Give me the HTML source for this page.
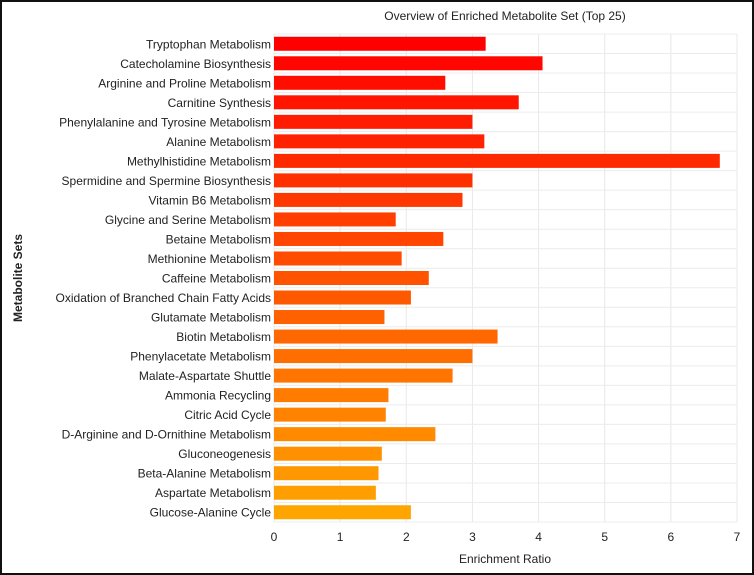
<!DOCTYPE html>
<html><head><meta charset="utf-8"><style>
html,body{margin:0;padding:0;background:#fff}
#wrap{position:relative;width:754px;height:575px;box-sizing:border-box;border:2px solid #111;overflow:hidden}
svg{position:absolute;left:-2px;top:-2px}
text{font-family:"Liberation Sans",Arial,sans-serif;fill:#222}
</style></head><body>
<div id="wrap">
<svg id="chart" width="754" height="575"></svg>
</div>
<script>
const categories=["Tryptophan Metabolism","Catecholamine Biosynthesis","Arginine and Proline Metabolism","Carnitine Synthesis","Phenylalanine and Tyrosine Metabolism","Alanine Metabolism","Methylhistidine Metabolism","Spermidine and Spermine Biosynthesis","Vitamin B6 Metabolism","Glycine and Serine Metabolism","Betaine Metabolism","Methionine Metabolism","Caffeine Metabolism","Oxidation of Branched Chain Fatty Acids","Glutamate Metabolism","Biotin Metabolism","Phenylacetate Metabolism","Malate-Aspartate Shuttle","Ammonia Recycling","Citric Acid Cycle","D-Arginine and D-Ornithine Metabolism","Gluconeogenesis","Beta-Alanine Metabolism","Aspartate Metabolism","Glucose-Alanine Cycle"];
const values=[3.2,4.06,2.59,3.7,3.0,3.18,6.74,3.0,2.85,1.84,2.56,1.93,2.34,2.07,1.67,3.38,3.0,2.7,1.73,1.69,2.44,1.63,1.58,1.54,2.07];
const xTicks=[0,1,2,3,4,5,6,7];
const NS="http://www.w3.org/2000/svg";
const svg=document.getElementById('chart');
const X0=274,X1=737,Y0=34,Y1=522,XMAX=7;
const rowH=(Y1-Y0)/categories.length;
const x=v=>X0+(X1-X0)*v/XMAX;
const yc=i=>Y0+rowH*(i+0.5);
function mk(tag,attrs,txt){const e=document.createElementNS(NS,tag);for(const k in attrs)e.setAttribute(k,attrs[k]);if(txt!==undefined)e.textContent=txt;svg.appendChild(e);return e;}
xTicks.forEach(t=>{
 const g=mk('line',{x1:x(t),x2:x(t),y1:Y0,y2:Y1,stroke:'#e8e8e8','stroke-width':1});
 
 
 const l=mk('text',{x:x(t),y:541,'text-anchor':'middle','font-size':12},String(t));
 
 
});
for(let i=0;i<=categories.length;i++){
 const g=mk('line',{x1:X0,x2:X1,y1:Y0+rowH*i,y2:Y0+rowH*i,stroke:'#ececec','stroke-width':1});
 
 
}
categories.forEach((c,i)=>{
 const f=i/(categories.length-1);
 const col=`rgb(255,${Math.round(165*f)},0)`;
 const b=mk('rect',{x:X0,y:yc(i)-7,width:x(values[i])-X0,height:14,fill:col});
 
 
 const t=mk('text',{x:X0-3,y:yc(i)+4.5,'text-anchor':'end','font-size':12},c);
 
 
});
const ti=mk('text',{x:505,y:20,'text-anchor':'middle','font-size':12},'Overview of Enriched Metabolite Set (Top 25)');


const xt=mk('text',{x:505,y:563,'text-anchor':'middle','font-size':12},'Enrichment Ratio');


const yt=mk('text',{x:22,y:278,'text-anchor':'middle','font-size':12,'font-weight':'bold',transform:'rotate(-90 22 278)'},'Metabolite Sets');


</script>
</body></html>
